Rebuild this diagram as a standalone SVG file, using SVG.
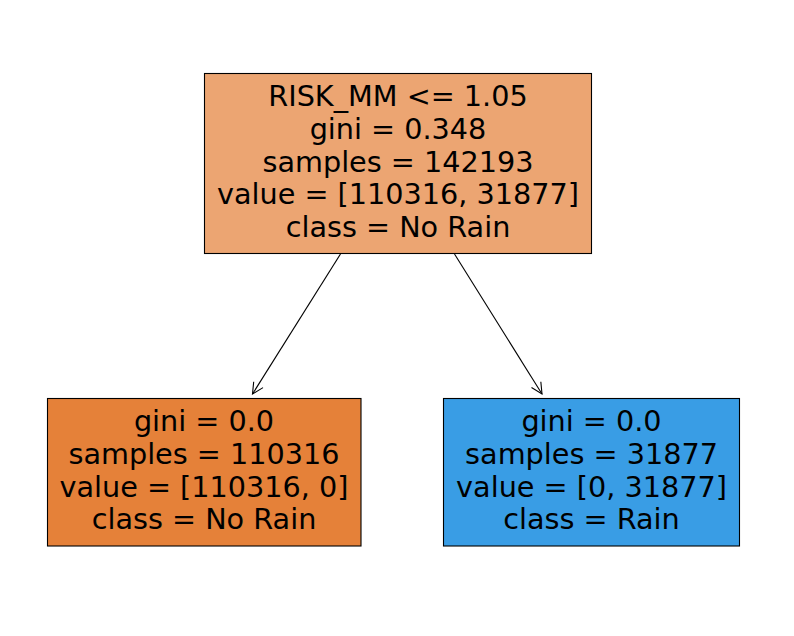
<svg xmlns="http://www.w3.org/2000/svg" width="794" height="636" viewBox="0 0 794 636">
<defs>
<marker id="arr" markerWidth="14" markerHeight="14" refX="12" refY="7" orient="auto" markerUnits="userSpaceOnUse">
<path d="M1,1.5 L12,7 L1,12.5" fill="none" stroke="#000" stroke-width="1.1"/>
</marker>
</defs>
<style>
.box{stroke:#000;stroke-width:1.1}
text{font-family:"DejaVu Sans",sans-serif;font-size:28.7px;fill:#000;text-anchor:middle}
.edge{stroke:#000;stroke-width:1.1;fill:none}
</style>
<rect width="794" height="636" fill="#fff"/>
<g id="connectors">
<line class="edge" x1="340.5" y1="254" x2="252.5" y2="394" marker-end="url(#arr)"/>
<line class="edge" x1="454.5" y1="254" x2="542" y2="394" marker-end="url(#arr)"/>
</g>
<g id="root">
<rect class="box" x="204.5" y="73.5" width="387" height="180" fill="#eca572"/>
<text x="398" y="106">RISK_MM &lt;= 1.05</text>
<text x="398" y="138.8">gini = 0.348</text>
<text x="398" y="171.6">samples = 142193</text>
<text x="398" y="204.4">value = [110316, 31877]</text>
<text x="398" y="237.2">class = No Rain</text>
</g>
<g id="left">
<rect class="box" x="47.5" y="398.5" width="313.5" height="147.5" fill="#e58139"/>
<text x="204" y="431.3">gini = 0.0</text>
<text x="204" y="464">samples = 110316</text>
<text x="204" y="496.7">value = [110316, 0]</text>
<text x="204" y="529.4">class = No Rain</text>
</g>
<g id="right">
<rect class="box" x="443.5" y="398.5" width="296" height="147.5" fill="#399de5"/>
<text x="591.5" y="431.3">gini = 0.0</text>
<text x="591.5" y="464">samples = 31877</text>
<text x="591.5" y="496.7">value = [0, 31877]</text>
<text x="591.5" y="529.4">class = Rain</text>
</g>
</svg>
